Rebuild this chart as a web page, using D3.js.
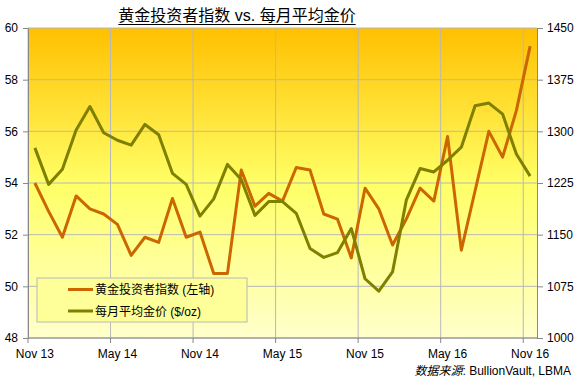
<!DOCTYPE html>
<html>
<head>
<meta charset="utf-8">
<script src="https://cdn.jsdelivr.net/npm/d3@7"></script>
<style>
  body { margin: 0; background: #fff; }
  text { font-family: "Liberation Sans", Arial, "Noto Sans CJK SC", sans-serif; fill: #000; }
  .gridline { stroke: #b8b8b8; stroke-width: 1; }
  .axis path, .axis line { stroke: #888; }
</style>
</head>
<body>
<div id="chart"></div>
<script>
const W = 577, H = 377;
const LEFT = 28, RIGHT = 537, TOP = 28, BOTTOM = 338;

// months Nov 2013 .. Nov 2016
const months = ["Nov 13","Dec 13","Jan 14","Feb 14","Mar 14","Apr 14","May 14","Jun 14","Jul 14","Aug 14","Sep 14","Oct 14",
                "Nov 14","Dec 14","Jan 15","Feb 15","Mar 15","Apr 15","May 15","Jun 15","Jul 15","Aug 15","Sep 15","Oct 15",
                "Nov 15","Dec 15","Jan 16","Feb 16","Mar 16","Apr 16","May 16","Jun 16","Jul 16","Aug 16","Sep 16","Oct 16","Nov 16"];

const investorIndex = [54.0, 52.9, 51.9, 53.5, 53.0, 52.8, 52.4, 51.2, 51.9, 51.7, 53.4, 51.9,
                       52.1, 50.5, 50.5, 54.5, 53.1, 53.6, 53.3, 54.6, 54.5, 52.8, 52.6, 51.1,
                       53.8, 53.0, 51.6, 52.6, 53.8, 53.3, 55.8, 51.4, 53.7, 56.0, 55.0, 56.8, 59.3];

const goldPrice = [1276, 1223, 1245, 1302, 1336, 1298, 1287, 1280, 1310, 1295, 1239, 1223,
                   1177, 1202, 1252, 1230, 1178, 1198, 1198, 1181, 1130, 1117, 1124, 1159,
                   1086, 1068, 1096, 1200, 1246, 1241, 1258, 1277, 1337, 1341, 1325, 1267, 1235];

const leftTicks = [48, 50, 52, 54, 56, 58, 60];
const rightTicks = [1000, 1075, 1150, 1225, 1300, 1375, 1450];
const xLabels = ["Nov 13", "May 14", "Nov 14", "May 15", "Nov 15", "May 16", "Nov 16"];

const svg = d3.select("#chart").append("svg")
    .attr("width", W).attr("height", H);

const xScale = d3.scaleBand().domain(months).range([LEFT, RIGHT]).padding(0);
const yLeft = d3.scaleLinear().domain([48, 60]).range([BOTTOM, TOP]);
const yRight = d3.scaleLinear().domain([1000, 1450]).range([BOTTOM, TOP]);
const cx = m => xScale(m) + xScale.bandwidth() / 2;

// background gradient
const grad = svg.append("defs").append("linearGradient")
    .attr("id", "bg").attr("x1", 0).attr("y1", 0).attr("x2", 0).attr("y2", 1);
grad.append("stop").attr("offset", "0%").attr("stop-color", "#ffc000");
grad.append("stop").attr("offset", "50%").attr("stop-color", "#ffff66");
grad.append("stop").attr("offset", "100%").attr("stop-color", "#ffffcc");

svg.append("rect")
   .attr("x", LEFT).attr("y", TOP)
   .attr("width", RIGHT - LEFT).attr("height", BOTTOM - TOP)
   .attr("fill", "url(#bg)");

// gridlines
leftTicks.forEach(t => {
    svg.append("line").attr("class", "gridline")
       .attr("x1", LEFT).attr("x2", RIGHT)
       .attr("y1", yLeft(t)).attr("y2", yLeft(t));
});
xLabels.forEach(m => {
    svg.append("line").attr("class", "gridline")
       .attr("x1", xScale(m)).attr("x2", xScale(m))
       .attr("y1", TOP).attr("y2", BOTTOM);
});

// axes
svg.append("g").attr("class", "axis")
   .attr("transform", `translate(${LEFT},0)`)
   .call(d3.axisLeft(yLeft).tickValues(leftTicks).tickSize(5).tickPadding(5))
   .call(g => g.selectAll("text").attr("font-size", 12));

svg.append("g").attr("class", "axis")
   .attr("transform", `translate(${RIGHT},0)`)
   .call(d3.axisRight(yRight).tickValues(rightTicks).tickFormat(d3.format("d")).tickSize(6).tickPadding(4))
   .call(g => g.selectAll("text").attr("font-size", 12));

const xAxis = svg.append("g").attr("class", "axis")
   .attr("transform", `translate(0,${BOTTOM})`);
xAxis.append("line").attr("x1", LEFT).attr("x2", RIGHT).attr("y1", 0).attr("y2", 0).attr("stroke", "#888");
xLabels.forEach(m => {
    xAxis.append("line").attr("x1", xScale(m)).attr("x2", xScale(m))
         .attr("y1", 0).attr("y2", 5).attr("stroke", "#888");
    xAxis.append("text").attr("x", cx(m)).attr("y", 20)
         .attr("text-anchor", "middle").attr("font-size", 12).text(m);
});

// lines
const priceLine = d3.line().x((d, i) => cx(months[i])).y(d => yRight(d));
const indexLine = d3.line().x((d, i) => cx(months[i])).y(d => yLeft(d));

svg.append("path").datum(investorIndex)
   .attr("d", indexLine).attr("fill", "none")
   .attr("stroke", "#cc6600").attr("stroke-width", 3).attr("stroke-linejoin", "round");

svg.append("path").datum(goldPrice)
   .attr("d", priceLine).attr("fill", "none")
   .attr("stroke", "#7f7f00").attr("stroke-width", 3).attr("stroke-linejoin", "round");

// legend
const legend = svg.append("g");
legend.append("rect")
   .attr("x", 37).attr("y", 278).attr("width", 210).attr("height", 44)
   .attr("fill", "#ffff99").attr("stroke", "#b8b8b8");
const items = [["黄金投资者指数 (左轴)", "#cc6600"], ["每月平均金价 ($/oz)", "#7f7f00"]];
items.forEach((it, i) => {
    const y = 289.5 + i * 21.5;
    legend.append("line").attr("x1", 68).attr("x2", 93).attr("y1", y).attr("y2", y)
          .attr("stroke", it[1]).attr("stroke-width", 3);
    legend.append("text").attr("x", 95).attr("y", y + 4.5)
          .attr("font-size", 12).text(it[0]);
});

// title
const title = svg.append("text")
   .attr("x", 237).attr("y", 21).attr("text-anchor", "middle")
   .attr("font-size", 16).text("黄金投资者指数 vs. 每月平均金价");
const tb = title.node().getBBox();
svg.append("line").attr("x1", tb.x).attr("x2", tb.x + tb.width)
   .attr("y1", 24.5).attr("y2", 24.5).attr("stroke", "#000").attr("stroke-width", 1);

// source
const src = svg.append("text").attr("x", 571).attr("y", 375)
   .attr("text-anchor", "end").attr("font-size", 12);
src.append("tspan").attr("font-style", "italic").text("数据来源");
src.append("tspan").text(": BullionVault, LBMA");
</script>
</body>
</html>
